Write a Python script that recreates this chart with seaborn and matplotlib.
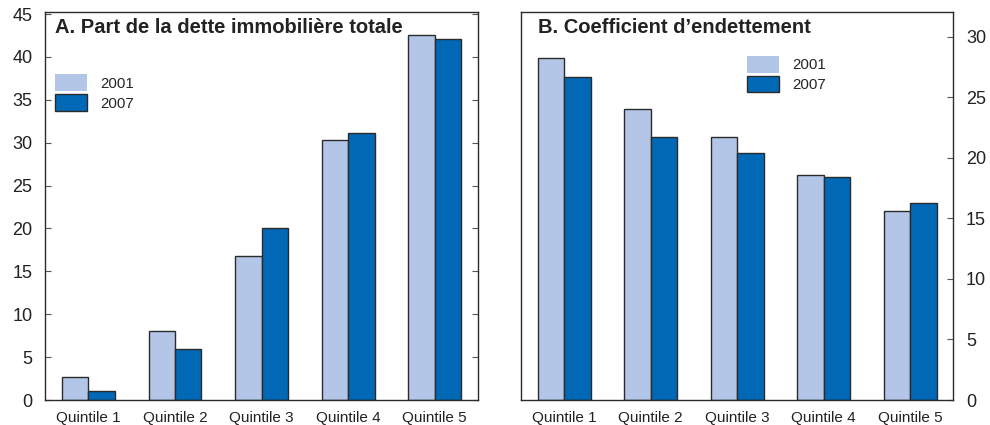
import matplotlib
matplotlib.use("Agg")
import matplotlib.pyplot as plt
from matplotlib.patches import Patch
import pandas as pd
import seaborn as sns

# Data
quintiles = ["Quintile 1", "Quintile 2", "Quintile 3", "Quintile 4", "Quintile 5"]
years = ["2001", "2007"]
part_2001 = [2.7, 8.0, 16.8, 30.3, 42.6]
part_2007 = [1.0, 6.0, 20.0, 31.1, 42.1]
coef_2001 = [28.2, 24.0, 21.7, 18.6, 15.6]
coef_2007 = [26.7, 21.7, 20.4, 18.4, 16.3]

title_a = "A. Part de la dette immobilière totale"
title_b = "B. Coefficient d\u2019endettement"

colors = {"2001": "#b3c6e7", "2007": "#0068b4"}
edge = "#2b2b2b"

sns.set_theme(style="white")
plt.rcParams["font.family"] = ["Liberation Sans", "DejaVu Sans"]


def long_frame(v01, v07):
    return pd.DataFrame({
        "quintile": quintiles * 2,
        "year": ["2001"] * len(quintiles) + ["2007"] * len(quintiles),
        "value": list(v01) + list(v07),
    })


fig = plt.figure(figsize=(9.9, 4.25), dpi=100)
ax_a = fig.add_axes([0.0455, 0.0588, 0.4373, 0.9122])
ax_b = fig.add_axes([0.5263, 0.0588, 0.4367, 0.9122])

panels = [
    (ax_a, long_frame(part_2001, part_2007), 45.2, range(0, 46, 5), title_a, "left",
     (0.023, 0.840)),
    (ax_b, long_frame(coef_2001, coef_2007), 32.0, range(0, 31, 5), title_b, "right",
     (0.523, 0.888)),
]

for ax, df, ymax, yt, title, side, leg_pos in panels:
    sns.barplot(data=df, x="quintile", y="value", hue="year", order=quintiles,
                hue_order=years, palette=colors, width=0.61, ax=ax,
                edgecolor=edge, linewidth=1.0, saturation=1, legend=False)
    ax.set_xlim(-0.5, 4.5)
    ax.set_ylim(0, ymax)
    ax.set_yticks(list(yt))
    ax.set_xlabel("")
    ax.set_ylabel("")
    for s in ax.spines.values():
        s.set_visible(True)
        s.set_color(edge)
        s.set_linewidth(1.0)
    ax.tick_params(axis="x", length=0, pad=8, labelsize=11, colors="#222222")
    ax.tick_params(axis="y", direction="in", length=4, width=0.8, color="#555555",
                   labelsize=13, pad=9, labelcolor="#222222")
    if side == "left":
        ax.tick_params(axis="y", left=True, right=True, labelleft=True, labelright=False)
    else:
        ax.tick_params(axis="y", left=False, right=True, labelleft=False, labelright=True)
    ax.text(0.023 if side == "left" else 0.0386, 0.947, title, transform=ax.transAxes,
            fontsize=14.5, fontweight="bold", color="#222222", va="baseline", ha="left")

    handles = [Patch(facecolor=colors["2001"], edgecolor="none"),
               Patch(facecolor=colors["2007"], edgecolor=edge, linewidth=1.0)]
    ax.legend(handles, years, loc="upper left", bbox_to_anchor=leg_pos, frameon=False,
              fontsize=10.8, handlelength=2.1, handleheight=1.35, handletextpad=0.9,
              labelspacing=0.2, borderpad=0, borderaxespad=0)

fig.savefig("out.png", dpi=100)
